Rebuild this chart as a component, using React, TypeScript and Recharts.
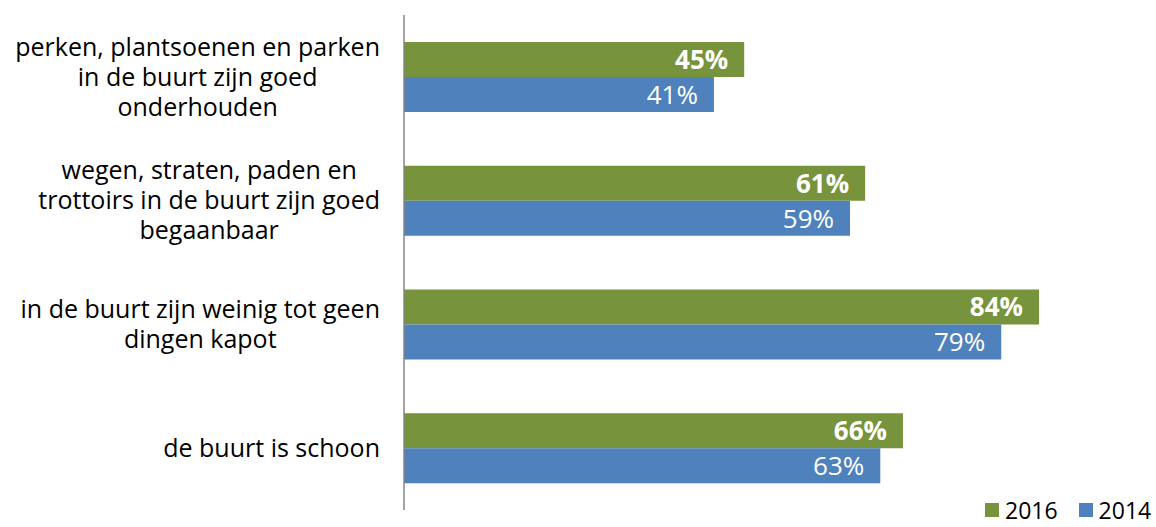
import { BarChart, Bar, XAxis, YAxis, LabelList } from 'recharts'

const categories = [
  'perken, plantsoenen en parken\nin de buurt zijn goed\nonderhouden',
  'wegen, straten, paden en\ntrottoirs in de buurt zijn goed\nbegaanbaar',
  'in de buurt zijn weinig tot geen\ndingen kapot',
  'de buurt is schoon',
]
const values2016 = [45, 61, 84, 66]
const values2014 = [41, 59, 79, 63]
const seriesNames = ['2016', '2014']
const seriesColors = ['#77933C', '#4F81BD']

const FONT = '"Open Sans", "Noto Sans", sans-serif'
const TICK_SIZE = 25
const LABEL_SIZE = 26
const LEGEND_SIZE = 23

const data = categories.map((name, i) => ({
  name,
  y2016: values2016[i],
  y2014: values2014[i],
}))

let ctx: CanvasRenderingContext2D | null = null
const measure = (s: string) => {
  if (!ctx) ctx = document.createElement('canvas').getContext('2d')
  if (!ctx) return s.length * 13
  ctx.font = `${TICK_SIZE}px ${FONT}`
  return ctx.measureText(s).width
}

// block of lines, right-aligned against the axis, each line centred in the block
const CategoryTick = (props: any) => {
  const { y, payload } = props
  const lines: string[] = String(payload.value).split('\n')
  const right = 380
  const w = Math.max(...lines.map(measure))
  const cx = right - w / 2
  const lh = 30
  const top = y - ((lines.length - 1) * lh) / 2
  return (
    <text fontFamily={FONT} fontSize={TICK_SIZE} fill="#000" textAnchor="middle">
      {lines.map((l, i) => (
        <tspan key={i} x={cx} y={top + i * lh} dy="0.35em">
          {l}
        </tspan>
      ))}
    </text>
  )
}

const valueLabel = (bold: boolean) => (props: any) => {
  const { x, y, width, height, value } = props
  return (
    <text
      x={x + width - 16}
      y={y + height / 2}
      dy="0.36em"
      textAnchor="end"
      fill="#fff"
      fontFamily={FONT}
      fontSize={LABEL_SIZE}
      fontWeight={bold ? 700 : 400}
    >
      {value}%
    </text>
  )
}

const App = () => {
  return (
    <div style={{ position: 'relative', width: 1156, height: 527, overflow: 'hidden', background: '#fff' }}>
      <style>{'body{margin:0}'}</style>
      <BarChart
        width={1160}
        height={527}
        data={data}
        layout="vertical"
        margin={{ top: 15, right: 0, bottom: 17, left: 0 }}
        barGap={0}
        barSize={35}
      >
        <XAxis type="number" domain={[0, 100]} hide />
        <YAxis
          type="category"
          dataKey="name"
          width={404}
          axisLine={{ stroke: '#868686', strokeWidth: 1.5 }}
          tickLine={false}
          tick={<CategoryTick />}
          interval={0}
        />
        <Bar dataKey="y2016" fill={seriesColors[0]} isAnimationActive={false}>
          <LabelList dataKey="y2016" content={valueLabel(true)} />
        </Bar>
        <Bar dataKey="y2014" fill={seriesColors[1]} isAnimationActive={false}>
          <LabelList dataKey="y2014" content={valueLabel(false)} />
        </Bar>
      </BarChart>
      <div
        style={{
          position: 'absolute',
          left: 985,
          top: 500,
          display: 'flex',
          alignItems: 'center',
          fontFamily: FONT,
          fontSize: LEGEND_SIZE,
          color: '#000',
          lineHeight: '20px',
        }}
      >
        {seriesNames.map((n, i) => (
          <span key={n} style={{ display: 'flex', alignItems: 'center', marginRight: i === 0 ? 21 : 0 }}>
            <span style={{ width: 14, height: 14, background: seriesColors[i], marginRight: 6, display: 'inline-block' }} />
            {n}
          </span>
        ))}
      </div>
    </div>
  )
}

export default App
